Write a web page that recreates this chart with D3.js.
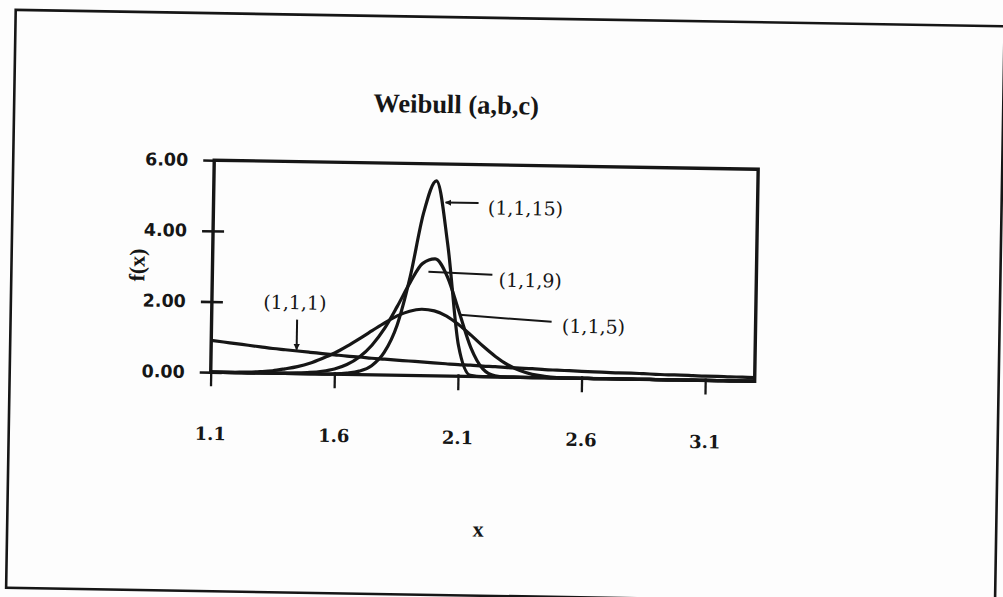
<!DOCTYPE html>
<html>
<head>
<meta charset="utf-8">
<script src="https://cdnjs.cloudflare.com/ajax/libs/d3/7.8.5/d3.min.js"></script>
<style>
    html, body { margin: 0; padding: 0; background: #fdfdfd; }
    svg { display: block; }
</style>
</head>
<body>
<svg id="chart"></svg>
<script>
// x categories (step 0.05)
var xValues = [1.10,1.15,1.20,1.25,1.30,1.35,1.40,1.45,1.50,1.55,1.60,1.65,1.70,1.75,1.80,
               1.85,1.90,1.95,2.00,2.05,2.10,2.15,2.20,2.25,2.30,2.35,2.40,2.45,2.50,2.55,
               2.60,2.65,2.70,2.75,2.80,2.85,2.90,2.95,3.00,3.05,3.10,3.15,3.20,3.25,3.30];

// f(x), one array per curve
var weibull_1 = [0.90,0.86,0.82,0.78,0.74,0.70,0.67,0.64,0.61,0.58,0.55,0.52,0.50,0.47,0.45,
                 0.43,0.41,0.39,0.37,0.35,0.33,0.32,0.30,0.29,0.27,0.26,0.25,0.23,0.22,0.21,
                 0.20,0.19,0.18,0.17,0.17,0.16,0.15,0.14,0.14,0.13,0.12,0.12,0.11,0.11,0.10];
var weibull_5 = [0.00,0.00,0.01,0.02,0.04,0.07,0.13,0.20,0.30,0.44,0.60,0.80,1.02,1.25,1.48,
                 1.68,1.82,1.88,1.84,1.70,1.46,1.17,0.86,0.58,0.35,0.19,0.09,0.04,0.01,0.00,
                 0.00,0.00,0.00,0.00,0.00,0.00,0.00,0.00,0.00,0.00,0.00,0.00,0.00,0.00,0.00];
var weibull_9 = [0.00,0.00,0.00,0.00,0.00,0.00,0.01,0.02,0.04,0.08,0.15,0.28,0.50,0.84,1.32,
                 1.95,2.63,3.18,3.31,2.82,1.83,0.82,0.22,0.03,0.00,0.00,0.00,0.00,0.00,0.00,
                 0.00,0.00,0.00,0.00,0.00,0.00,0.00,0.00,0.00,0.00,0.00,0.00,0.00,0.00,0.00];
var weibull_15 = [0.00,0.00,0.00,0.00,0.00,0.00,0.00,0.00,0.00,0.00,0.01,0.04,0.10,0.26,0.64,
                  1.41,2.79,4.60,5.52,3.72,0.87,0.03,0.00,0.00,0.00,0.00,0.00,0.00,0.00,0.00,
                  0.00,0.00,0.00,0.00,0.00,0.00,0.00,0.00,0.00,0.00,0.00,0.00,0.00,0.00,0.00];

var seriesNames = ["(1,1,1)", "(1,1,5)", "(1,1,9)", "(1,1,15)"];
var xTicks = [1.1, 1.6, 2.1, 2.6, 3.1];
var yTicks = [0, 2, 4, 6];

var width = 1003, height = 597;
var ink = "#161616";

var svg = d3.select("#chart").attr("width", width).attr("height", height);

// the scanned page is slightly tilted
var page = svg.append("g").attr("transform", "rotate(0.95, 501, 298)");

// outer border
page.append("rect")
    .attr("x", 11).attr("y", 18)
    .attr("width", 989).attr("height", 578)
    .attr("fill", "none").attr("stroke", ink).attr("stroke-width", 2.6);

var plot = {left: 212, top: 165, right: 756, bottom: 377};

var x = d3.scaleLinear().domain([1.1, 3.3]).range([plot.left, plot.right]);
var y = d3.scaleLinear().domain([0, 6]).range([plot.bottom, plot.top]);

// title
page.append("text")
    .attr("x", 453).attr("y", 114)
    .attr("text-anchor", "middle")
    .style("font-family", "'Liberation Serif', serif")
    .style("font-weight", "bold")
    .style("font-size", "26.5px")
    .style("fill", ink)
    .text("Weibull (a,b,c)");

// y axis
var yAxis = page.append("g")
    .attr("transform", "translate(" + plot.left + ",0)")
    .call(d3.axisLeft(y).tickValues(yTicks).tickFormat(d3.format(".2f")).tickSize(11).tickPadding(15));
yAxis.select(".domain").remove();
yAxis.selectAll(".tick line")
    .attr("x1", function (d) { return d === 6 ? 0 : 11; })
    .attr("x2", -11)
    .attr("stroke", ink).attr("stroke-width", 2.6);
yAxis.selectAll(".tick text")
    .style("font-family", "'DejaVu Sans', sans-serif")
    .style("font-weight", "bold")
    .style("font-size", "17.5px")
    .style("fill", ink);

// x axis
var xAxis = page.append("g")
    .attr("transform", "translate(0," + plot.bottom + ")")
    .call(d3.axisBottom(x).tickValues(xTicks).tickFormat(d3.format(".1f")).tickSize(14).tickPadding(41));
xAxis.select(".domain").remove();
xAxis.selectAll(".tick line")
    .attr("y1", -2)
    .attr("stroke", ink).attr("stroke-width", 2.3);
xAxis.selectAll(".tick text")
    .style("font-family", "'DejaVu Serif', serif")
    .style("font-weight", "bold")
    .style("font-size", "18px")
    .style("fill", ink);

// axis titles
page.append("text")
    .attr("x", 482).attr("y", 537)
    .attr("text-anchor", "middle")
    .style("font-family", "'Liberation Serif', serif")
    .style("font-weight", "bold")
    .style("font-size", "22px")
    .style("fill", ink)
    .text("x");

page.append("text")
    .attr("transform", "translate(144,271) rotate(-90)")
    .attr("text-anchor", "middle")
    .style("font-family", "'Liberation Serif', serif")
    .style("font-weight", "bold")
    .style("font-size", "22px")
    .style("fill", ink)
    .text("f(x)");

// curves
var line = d3.line()
    .x(function (d) { return x(d[0]); })
    .y(function (d) { return y(d[1]); })
    .curve(d3.curveMonotoneX);

[weibull_1, weibull_5, weibull_9, weibull_15].forEach(function (vals) {
    page.append("path")
        .datum(d3.zip(xValues, vals))
        .attr("d", line)
        .attr("fill", "none")
        .attr("stroke", ink)
        .attr("stroke-width", 3.2)
        .attr("stroke-linejoin", "round");
});

// plot frame
page.append("rect")
    .attr("x", plot.left).attr("y", plot.top)
    .attr("width", plot.right - plot.left).attr("height", plot.bottom - plot.top)
    .attr("fill", "none").attr("stroke", ink).attr("stroke-width", 3.4);

// arrow marker
svg.append("defs").append("marker")
    .attr("id", "arrow")
    .attr("viewBox", "0 0 10 10")
    .attr("refX", 9).attr("refY", 5)
    .attr("markerWidth", 3.2).attr("markerHeight", 3.2)
    .attr("orient", "auto")
    .append("path")
    .attr("d", "M0,0 L10,5 L0,10 z")
    .attr("fill", ink);

// annotations: leader line + label
var notes = [
    {name: seriesNames[3], from: [477, 203.5], to: [444, 203.5], arrow: true,  tx: 524, ty: 208},
    {name: seriesNames[2], from: [492, 275],   to: [428, 273],   arrow: false, tx: 530, ty: 280},
    {name: seriesNames[1], from: [552, 321],   to: [460, 315.5], arrow: false, tx: 594, ty: 325},
    {name: seriesNames[0], from: [297.5, 323], to: [297.5, 353], arrow: true,  tx: 295, ty: 306}
];

notes.forEach(function (n) {
    page.append("line")
        .attr("x1", n.from[0]).attr("y1", n.from[1])
        .attr("x2", n.to[0]).attr("y2", n.to[1])
        .attr("stroke", ink).attr("stroke-width", 2)
        .attr("marker-end", n.arrow ? "url(#arrow)" : null);
    page.append("text")
        .attr("x", n.tx).attr("y", n.ty)
        .attr("dy", "0.35em")
        .attr("text-anchor", "middle")
        .style("font-family", "'DejaVu Serif', serif")
        .style("font-size", "19px")
        .style("fill", ink)
        .text(n.name);
});
</script>
</body>
</html>
